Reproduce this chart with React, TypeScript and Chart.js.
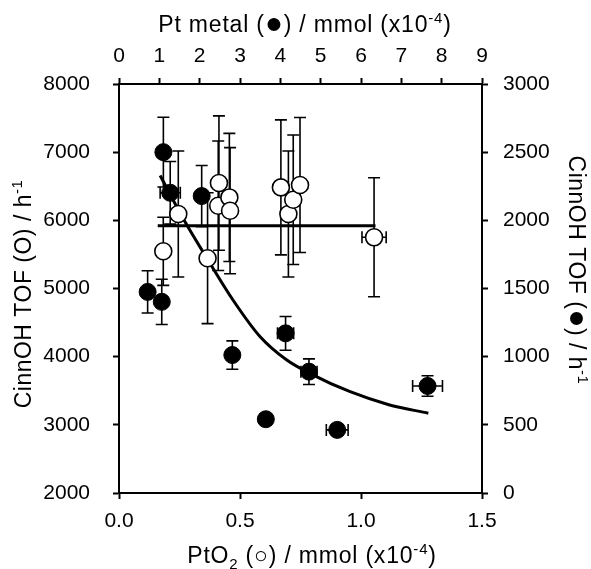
import React, { useEffect, useRef } from "react";
import { Chart, registerables } from "chart.js";
Chart.register(...registerables);

// Open circles: PtO2 amount (bottom axis, x10^-4 mmol) vs CinnOH TOF (left axis)
const ptO2Amount = [0.183, 0.245, 0.366, 0.413, 0.41, 0.456, 0.459, 0.669, 0.7, 0.72, 0.748, 1.054];
const ptO2Tof = [5546, 6093, 5444, 6547, 6214, 6336, 6141, 6483, 6093, 6302, 6518, 5751];
const ptO2TofErr = [500, 925, 960, 985, 950, 940, 925, 990, 925, 950, 990, 873];
const ptO2AmountErr = [0, 0, 0, 0, 0, 0, 0, 0.02, 0, 0, 0.02, 0.05];

// Filled circles: Pt metal amount (top axis) vs CinnOH TOF (right axis)
const ptMetalAmount = [0.71, 1.06, 1.1, 1.27, 2.05, 2.81, 3.64, 4.13, 4.71, 5.41, 7.65];
const ptMetalTof = [1475, 1402, 2500, 2202, 2178, 1012, 541, 1171, 890, 463, 785];
const ptMetalTofErr = [155, 166, 256, 230, 224, 104, 40, 124, 94, 30, 75];
const ptMetalAmountErr = [0, 0, 0, 0.25, 0, 0, 0.1, 0.2, 0.2, 0.27, 0.37];

// Mean line for PtO2 series
const meanLineX = [0.16, 1.06];
const meanLineY = [5920, 5920];

// Fitted curve for Pt metal series
const fitX = [1.02, 1.64, 2.21, 2.83, 3.5, 4.16, 4.73, 5.73, 6.71, 7.67];
const fitY = [2329, 1987, 1707, 1414, 1146, 975, 878, 743, 646, 585];

const FONT = "'Liberation Sans', Arial, Helvetica, sans-serif";
const FS = 21;
const TFS = 23;

type Seg = { t: string; sup?: boolean; sub?: boolean; big?: boolean };

function drawRich(ctx: CanvasRenderingContext2D, segs: Seg[], x: number, y: number, rot: number, spacing: string) {
  ctx.save();
  ctx.translate(x, y);
  ctx.rotate(rot);
  ctx.fillStyle = "#000";
  ctx.textBaseline = "alphabetic";
  ctx.textAlign = "left";
  (ctx as any).letterSpacing = spacing;
  const sizeOf = (s: Seg) => (s.sup || s.sub ? 15 : s.big ? 30 : TFS);
  const widths = segs.map((s) => {
    ctx.font = `${sizeOf(s)}px ${FONT}`;
    return ctx.measureText(s.t).width;
  });
  const total = widths.reduce((a, b) => a + b, 0);
  let cx = -total / 2;
  segs.forEach((s, i) => {
    ctx.font = `${sizeOf(s)}px ${FONT}`;
    const dy = s.sup ? -9 : s.sub ? 6 : s.big ? 1 : 0;
    ctx.fillText(s.t, cx, dy);
    cx += widths[i];
  });
  ctx.restore();
}

const titlesPlugin = {
  id: "richTitles",
  afterDraw(chart: any) {
    const ctx = chart.ctx as CanvasRenderingContext2D;
    drawRich(ctx, [{ t: "Pt metal (" }, { t: "\u25CF", big: true }, { t: ") / mmol (x10" }, { t: "-4", sup: true }, { t: ")" }], 305, 32, 0, "0.8px");
    drawRich(ctx, [{ t: "PtO" }, { t: "2", sub: true }, { t: " (\u25CB) / mmol (x10" }, { t: "-4", sup: true }, { t: ")" }], 312, 563, 0, "0.8px");
    drawRich(ctx, [{ t: "CinnOH TOF (O) / h" }, { t: "-1", sup: true }], 31, 294, -Math.PI / 2, "0.5px");
    drawRich(ctx, [{ t: "CinnOH TOF (" }, { t: "\u25CF", big: true }, { t: ") / h" }, { t: "-1", sup: true }], 569, 270, Math.PI / 2, "0.5px");
  },
};

const errorBarPlugin = {
  id: "errorBars",
  beforeDatasetDraw(chart: any, args: any) {
    const ds = chart.data.datasets[args.index];
    const eb = ds.errorBars;
    if (!eb) return;
    const ctx = chart.ctx as CanvasRenderingContext2D;
    const xs = chart.scales[ds.xAxisID];
    const ys = chart.scales[ds.yAxisID];
    const cap = 6;
    ctx.save();
    ctx.strokeStyle = "#000";
    ctx.lineWidth = 1.6;
    ds.data.forEach((p: any, i: number) => {
      const px = xs.getPixelForValue(p.x);
      const py = ys.getPixelForValue(p.y);
      const ye = eb.y[i];
      const xe = eb.x[i];
      ctx.beginPath();
      if (ye > 0) {
        const t = ys.getPixelForValue(p.y + ye);
        const b = ys.getPixelForValue(p.y - ye);
        ctx.moveTo(px, t); ctx.lineTo(px, b);
        ctx.moveTo(px - cap, t); ctx.lineTo(px + cap, t);
        ctx.moveTo(px - cap, b); ctx.lineTo(px + cap, b);
      }
      if (xe > 0) {
        const l = xs.getPixelForValue(p.x - xe);
        const r = xs.getPixelForValue(p.x + xe);
        ctx.moveTo(l, py); ctx.lineTo(r, py);
        ctx.moveTo(l, py - cap); ctx.lineTo(l, py + cap);
        ctx.moveTo(r, py - cap); ctx.lineTo(r, py + cap);
      }
      ctx.stroke();
    });
    ctx.restore();
  },
};

const tickFont = { family: FONT, size: FS };
const gridCfg = { drawOnChartArea: false, drawTicks: true, tickLength: 6, tickWidth: 2, tickColor: "#000" };
const borderCfg = { display: true, color: "#000", width: 2 };

export default function App() {
  const ref = useRef<HTMLCanvasElement>(null);
  useEffect(() => {
    document.body.style.margin = "0";
    const canvas = ref.current!;
    const chart = new Chart(canvas, {
      type: "scatter",
      data: {
        datasets: [
          {
            label: "PtO2",
            data: ptO2Amount.map((x, i) => ({ x, y: ptO2Tof[i] })),
            xAxisID: "x",
            yAxisID: "y",
            pointRadius: 8.5,
            pointHoverRadius: 8.5,
            backgroundColor: "#fff",
            borderColor: "#000",
            borderWidth: 1.6,
            errorBars: { x: ptO2AmountErr, y: ptO2TofErr },
          } as any,
          {
            label: "mean",
            data: meanLineX.map((x, i) => ({ x, y: meanLineY[i] })),
            xAxisID: "x",
            yAxisID: "y",
            showLine: true,
            pointRadius: 0,
            borderColor: "#000",
            borderWidth: 3,
          },
          {
            label: "fit",
            data: fitX.map((x, i) => ({ x, y: fitY[i] })),
            xAxisID: "x2",
            yAxisID: "y2",
            showLine: true,
            pointRadius: 0,
            borderColor: "#000",
            borderWidth: 3,
            cubicInterpolationMode: "monotone",
          },
          {
            label: "Pt metal",
            data: ptMetalAmount.map((x, i) => ({ x, y: ptMetalTof[i] })),
            xAxisID: "x2",
            yAxisID: "y2",
            pointRadius: 8.5,
            pointHoverRadius: 8.5,
            backgroundColor: "#000",
            borderColor: "#000",
            borderWidth: 1,
            errorBars: { x: ptMetalAmountErr, y: ptMetalTofErr },
          } as any,
        ],
      },
      options: {
        animation: false,
        responsive: false,
        layout: { padding: 0 },
        plugins: { legend: { display: false }, tooltip: { enabled: false } },
        scales: {
          x: {
            type: "linear",
            position: "bottom",
            min: 0,
            max: 1.5,
            ticks: { stepSize: 0.5, color: "#000", font: tickFont, padding: 10, callback: (v: any) => Number(v).toFixed(1) },
            grid: gridCfg,
            border: borderCfg,
            afterFit: (s: any) => { s.height = 76; },
          },
          x2: {
            type: "linear",
            position: "top",
            min: 0,
            max: 9,
            ticks: { stepSize: 1, color: "#000", font: tickFont, padding: 9, callback: (v: any) => String(v) },
            grid: gridCfg,
            border: borderCfg,
            afterFit: (s: any) => { s.height = 84; },
          },
          y: {
            type: "linear",
            position: "left",
            min: 2000,
            max: 8000,
            ticks: { stepSize: 1000, color: "#000", font: tickFont, padding: 23, callback: (v: any) => String(v) },
            grid: gridCfg,
            border: borderCfg,
            afterFit: (s: any) => { s.width = 119; },
          },
          y2: {
            type: "linear",
            position: "right",
            min: 0,
            max: 3000,
            ticks: { stepSize: 500, color: "#000", font: tickFont, padding: 15, callback: (v: any) => String(v) },
            grid: gridCfg,
            border: borderCfg,
            afterFit: (s: any) => { s.width = 109; },
          },
        },
      } as any,
      plugins: [errorBarPlugin, titlesPlugin],
    });
    return () => chart.destroy();
  }, []);
  return <canvas ref={ref} width={591} height={569} style={{ display: "block" }} />;
}
